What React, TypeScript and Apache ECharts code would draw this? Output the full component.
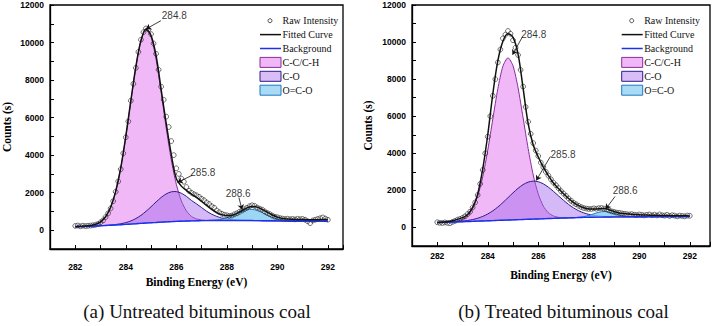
import React, { useEffect, useRef } from "react";
import * as echarts from "echarts";

// Sampling grids (eV)
const curveEnergy = [
  282.0, 282.2, 282.4, 282.6, 282.8, 283.0, 283.2, 283.4, 283.6, 283.8,
  284.0, 284.2, 284.4, 284.6, 284.8, 285.0, 285.2, 285.4, 285.6, 285.8,
  286.0, 286.2, 286.4, 286.6, 286.8, 287.0, 287.2, 287.4, 287.6, 287.8,
  288.0, 288.2, 288.4, 288.6, 288.8, 289.0, 289.2, 289.4, 289.6, 289.8,
  290.0, 290.2, 290.4, 290.6, 290.8, 291.0, 291.2, 291.4, 291.6, 291.8,
  292.0,
];
const rawEnergy = [
  282.0, 282.1, 282.2, 282.3, 282.4, 282.5, 282.6, 282.7, 282.8, 282.9,
  283.0, 283.1, 283.2, 283.3, 283.4, 283.5, 283.6, 283.7, 283.8, 283.9,
  284.0, 284.1, 284.2, 284.3, 284.4, 284.5, 284.6, 284.7, 284.8, 284.9,
  285.0, 285.1, 285.2, 285.3, 285.4, 285.5, 285.6, 285.7, 285.8, 285.9,
  286.0, 286.1, 286.2, 286.3, 286.4, 286.5, 286.6, 286.7, 286.8, 286.9,
  287.0, 287.1, 287.2, 287.3, 287.4, 287.5, 287.6, 287.7, 287.8, 287.9,
  288.0, 288.1, 288.2, 288.3, 288.4, 288.5, 288.6, 288.7, 288.8, 288.9,
  289.0, 289.1, 289.2, 289.3, 289.4, 289.5, 289.6, 289.7, 289.8, 289.9,
  290.0, 290.1, 290.2, 290.3, 290.4, 290.5, 290.6, 290.7, 290.8, 290.9,
  291.0, 291.1, 291.2, 291.3, 291.4, 291.5, 291.6, 291.7, 291.8, 291.9,
  292.0,
];

// (a) Untreated bituminous coal
const untreatedBackground = [
  180, 190, 200, 215, 228, 240, 252, 265, 280, 295,
  310, 328, 346, 365, 383, 400, 415, 430, 443, 457,
  470, 480, 489, 497, 504, 510, 513, 516, 518, 519,
  520, 520, 519, 518, 516, 515, 512, 509, 506, 503,
  500, 498, 496, 494, 492, 490, 488, 486, 484, 482,
  480,
];
const untreatedCC = [
  1, 3, 10, 30, 80, 200, 460, 950, 1770, 3010,
  4650, 6530, 8350, 9730, 10300, 9910, 8680, 6920, 5010, 3300,
  1980, 1080, 540, 240, 100, 40, 13, 4, 1, 0,
  0, 0, 0, 0, 0, 0, 0, 0, 0, 0,
  0, 0, 0, 0, 0, 0, 0, 0, 0, 0,
  0,
];
const untreatedCO = [
  0, 0, 0, 0, 1, 2, 5, 12, 26, 51,
  95, 167, 276, 427, 622, 850, 1091, 1316, 1491, 1588,
  1588, 1491, 1316, 1091, 900, 700, 500, 340, 220, 130,
  75, 40, 20, 9, 4, 2, 1, 0, 0, 0,
  0, 0, 0, 0, 0, 0, 0, 0, 0, 0,
  0,
];
const untreatedOCO = [
  0, 0, 0, 0, 0, 0, 0, 0, 0, 0,
  0, 0, 0, 0, 0, 0, 0, 0, 0, 0,
  0, 0, 0, 0, 0, 1, 4, 11, 30, 67,
  135, 237, 364, 490, 578, 598, 541, 430, 298, 182,
  97, 46, 18, 6, 2, 0, 0, 0, 0, 0,
  0,
];
const untreatedFit = [
  205, 212, 222, 250, 312, 450, 720, 1220, 2070, 3320,
  5000, 6900, 8720, 10100, 10720, 10380, 9300, 7500, 5700, 4050,
  2750, 2350, 2120, 1920, 1750, 1540, 1320, 1110, 940, 830,
  780, 800, 900, 1050, 1190, 1270, 1230, 1110, 960, 810,
  700, 630, 600, 585, 575, 568, 563, 562, 565, 570,
  570,
];
const untreatedRaw = [
  230, 250, 210, 240, 220, 235, 250, 265, 290, 330,
  420, 520, 700, 900, 1160, 1550, 2050, 2600, 3250, 4100,
  4950, 5800, 6900, 7800, 8650, 9500, 10150, 10550, 10750, 10700,
  10450, 9950, 9400, 8550, 7650, 6950, 6050, 5500, 4750, 4000,
  3300, 3000, 2750, 2580, 2300, 2100, 2000, 1920, 1860, 1780,
  1680, 1600, 1480, 1400, 1280, 1200, 1050, 960, 880, 820,
  800, 760, 780, 850, 900, 980, 1050, 1120, 1200, 1280,
  1330, 1300, 1210, 1150, 1100, 1000, 920, 860, 780, 720,
  690, 650, 620, 600, 610, 590, 600, 580, 610, 590,
  600, 560, 480, 380, 520, 560, 600, 640, 680, 620,
  560,
];
const untreatedPeakText = ["284.8", "285.8", "288.6"];
const untreatedTextAt = [[285.92, 11467], [287.05, 3093], [288.45, 1973]];
const untreatedArrowFrom = [[285.39, 11163], [286.64, 2933], [288.48, 1744]];
const untreatedArrowTo = [[284.8, 10720], [286.05, 2550], [288.6, 1100]];

// (b) Treated bituminous coal
const treatedBackground = [
  270, 278, 286, 294, 302, 310, 320, 330, 340, 350,
  360, 370, 380, 390, 400, 410, 420, 430, 440, 450,
  460, 470, 480, 490, 500, 510, 518, 526, 534, 542,
  550, 554, 558, 562, 566, 570, 572, 574, 576, 578,
  580, 582, 583, 584, 585, 586, 587, 588, 589, 590,
  591,
];
const treatedCC = [
  1, 1, 5, 16, 48, 130, 310, 680, 1340, 2380,
  3810, 5480, 7110, 8310, 8750, 8310, 7110, 5480, 3810, 2380,
  1340, 680, 310, 130, 48, 16, 5, 1, 0, 0,
  0, 0, 0, 0, 0, 0, 0, 0, 0, 0,
  0, 0, 0, 0, 0, 0, 0, 0, 0, 0,
  0,
];
const treatedCO = [
  1, 2, 4, 9, 17, 32, 56, 96, 157, 245,
  367, 526, 724, 954, 1205, 1459, 1693, 1883, 2007, 2050,
  2007, 1883, 1693, 1459, 1205, 954, 724, 526, 367, 245,
  157, 96, 56, 32, 17, 9, 4, 2, 1, 0,
  0, 0, 0, 0, 0, 0, 0, 0, 0, 0,
  0,
];
const treatedOCO = [
  0, 0, 0, 0, 0, 0, 0, 0, 0, 0,
  0, 0, 0, 0, 0, 0, 0, 0, 0, 0,
  0, 0, 0, 0, 0, 0, 0, 3, 13, 41,
  97, 182, 265, 300, 265, 182, 97, 41, 13, 3,
  0, 0, 0, 0, 0, 0, 0, 0, 0, 0,
  0,
];
const treatedFit = [
  270, 285, 310, 360, 440, 530, 700, 1080, 1800, 3150,
  5000, 7200, 9000, 10050, 10450, 10250, 9350, 7500, 5600, 4450,
  3800, 3250, 2800, 2400, 2100, 1820, 1560, 1340, 1180, 1060,
  1000, 990, 1010, 1020, 960, 860, 780, 750, 720, 700,
  685, 672, 662, 655, 650, 645, 640, 636, 632, 628,
  625,
];
const treatedRaw = [
  280, 250, 240, 270, 250, 230, 300, 350, 420, 460,
  520, 600, 720, 850, 1080, 1350, 1750, 2350, 3100, 4000,
  4900, 6000, 7100, 8000, 8900, 9600, 10200, 10400, 10600, 10450,
  10100, 9700, 9300, 8500, 7600, 6500, 5700, 5050, 4550, 4150,
  3850, 3500, 3250, 3000, 2800, 2600, 2420, 2280, 2120, 1960,
  1830, 1700, 1560, 1440, 1330, 1250, 1170, 1100, 1050, 1020,
  1000, 1000, 1030, 1010, 1040, 1050, 1020, 980, 920, 870,
  840, 800, 790, 760, 740, 720, 700, 720, 690, 670,
  700, 680, 650, 680, 700, 660, 690, 650, 700, 660,
  640, 680, 620, 660, 640, 600, 640, 620, 600, 640,
  630,
];
const treatedPeakText = ["284.8", "285.8", "288.6"];
const treatedTextAt = [[285.82, 10394], [286.98, 3921], [289.44, 1996]];
const treatedArrowFrom = [[285.38, 10302], [286.48, 3830], [289.04, 1672]];
const treatedArrowTo = [[284.98, 9315], [285.92, 2535], [288.67, 992]];

const legendNames = ["Raw Intensity", "Fitted Curve", "Background", "C-C/C-H", "C-O", "O=C-O"];

const SERIF = '"Liberation Serif", "Times New Roman", serif';
const SANS = '"Liberation Sans", Arial, sans-serif';

const COLORS = {
  ccFill: "#f0b8f6",
  ccLine: "#8a2c9c",
  coFill: "rgba(160, 100, 234, 0.45)",
  coLegend: "#d9bdf6",
  coLine: "#2e1b8e",
  ocoFill: "rgba(122, 200, 242, 0.75)",
  ocoLegend: "#a9dcf4",
  ocoLine: "#1f78c4",
  background: "#1f2ff2",
  fit: "#111111",
  raw: "#222222",
};

type Panel = {
  bg: number[];
  cc: number[];
  co: number[];
  oco: number[];
  fit: number[];
  raw: number[];
  text: string[];
  textAt: number[][];
  from: number[][];
  to: number[][];
  caption: string;
  layout: {
    left: number;
    top: number;
    width: number;
    height: number;
    xMax: number;
    xLabelMargin: number;
    xNameGap: number;
    yNameGap: number;
    legendX: number;
    legendY: number;
    captionX: number;
    captionY: number;
  };
};

const panels: Panel[] = [
  {
    bg: untreatedBackground,
    cc: untreatedCC,
    co: untreatedCO,
    oco: untreatedOCO,
    fit: untreatedFit,
    raw: untreatedRaw,
    text: untreatedPeakText,
    textAt: untreatedTextAt,
    from: untreatedArrowFrom,
    to: untreatedArrowTo,
    caption: "(a) Untreated bituminous coal",
    layout: {
      left: 49, top: 5, width: 294, height: 244, xMax: 292.6,
      xLabelMargin: 13, xNameGap: 23, yNameGap: 37,
      legendX: 260, legendY: 20.7, captionX: 197, captionY: 311,
    },
  },
  {
    bg: treatedBackground,
    cc: treatedCC,
    co: treatedCO,
    oco: treatedOCO,
    fit: treatedFit,
    raw: treatedRaw,
    text: treatedPeakText,
    textAt: treatedTextAt,
    from: treatedArrowFrom,
    to: treatedArrowTo,
    caption: "(b) Treated bituminous coal",
    layout: {
      left: 412, top: 5, width: 298, height: 241, xMax: 292.8,
      xLabelMargin: 5, xNameGap: 23, yNameGap: 38,
      legendX: 621.7, legendY: 20.7, captionX: 563.5, captionY: 311,
    },
  },
];

const pair = (xs: number[], ys: number[]) => xs.map((x, i) => [x, ys[i]]);

// A fitted component: filled band between the background and background + component,
// outlined along its upper edge.
function componentSeries(i: number, name: string, bg: number[], comp: number[], fill: string, stroke: string): any {
  return {
    type: "custom",
    name,
    xAxisIndex: i,
    yAxisIndex: i,
    silent: true,
    data: [[curveEnergy[0], bg[0]]],
    renderItem: (_params: any, api: any) => {
      const top = curveEnergy.map((e, k) => api.coord([e, bg[k] + comp[k]]));
      const bottom = curveEnergy.map((e, k) => api.coord([e, bg[k]])).reverse();
      return {
        type: "group",
        children: [
          {
            type: "polygon",
            shape: { points: top.concat(bottom), smooth: 0.25 },
            style: { fill, stroke: "none" },
          },
          {
            type: "polyline",
            shape: { points: top, smooth: 0.25 },
            style: { fill: "none", stroke, lineWidth: 1 },
          },
        ],
      };
    },
  };
}

function panelSeries(p: Panel, i: number): any[] {
  const line = {
    type: "line",
    xAxisIndex: i,
    yAxisIndex: i,
    symbol: "none",
    smooth: 0.35,
    silent: true,
  };
  return [
    componentSeries(i, "C-C/C-H", p.bg, p.cc, COLORS.ccFill, COLORS.ccLine),
    componentSeries(i, "C-O", p.bg, p.co, COLORS.coFill, COLORS.coLine),
    componentSeries(i, "O=C-O", p.bg, p.oco, COLORS.ocoFill, COLORS.ocoLine),
    {
      ...line,
      name: "Background",
      data: pair(curveEnergy, p.bg),
      lineStyle: { color: COLORS.background, width: 1.4 },
    },
    {
      ...line,
      name: "Fitted Curve",
      data: pair(curveEnergy, p.fit),
      lineStyle: { color: COLORS.fit, width: 1.5 },
    },
    {
      type: "scatter",
      name: "Raw Intensity",
      xAxisIndex: i,
      yAxisIndex: i,
      silent: true,
      symbol: "circle",
      symbolSize: 4.8,
      data: pair(rawEnergy, p.raw),
      itemStyle: { color: "rgba(255,255,255,0)", borderColor: COLORS.raw, borderWidth: 0.8 },
    },
    {
      type: "scatter",
      name: "peak-labels",
      xAxisIndex: i,
      yAxisIndex: i,
      silent: true,
      symbolSize: 1,
      itemStyle: { color: "rgba(0,0,0,0)" },
      data: p.textAt.map((c, k) => [c[0], c[1], p.text[k]]),
      label: {
        show: true,
        position: "inside",
        formatter: (q: any) => q.value[2],
        color: "#000",
        textBorderWidth: 0,
        fontSize: 10,
        fontFamily: SANS,
      },
      markLine: {
        silent: true,
        symbol: ["none", "arrow"],
        symbolSize: 5,
        label: { show: false },
        lineStyle: { color: "#111", width: 0.8, type: "solid" },
        data: p.from.map((f, k) => [{ coord: f }, { coord: p.to[k] }]),
      },
    },
  ];
}

function legendGraphic(p: Panel): any[] {
  const { legendX: x, legendY: y0 } = p.layout;
  const step = 13.9;
  const iconW = 21;
  const out: any[] = [];
  legendNames.forEach((name, k) => {
    const y = y0 + k * step;
    if (k === 0) {
      out.push({
        type: "circle",
        shape: { cx: x + 10, cy: y, r: 2 },
        style: { fill: "#fff", stroke: COLORS.raw, lineWidth: 0.8 },
      });
    } else if (k === 1 || k === 2) {
      out.push({
        type: "line",
        shape: { x1: x, y1: y, x2: x + iconW, y2: y },
        style: { stroke: k === 1 ? COLORS.fit : COLORS.background, lineWidth: 1.5 },
      });
    } else {
      const fill = k === 3 ? COLORS.ccFill : k === 4 ? COLORS.coLegend : COLORS.ocoLegend;
      const stroke = k === 3 ? COLORS.ccLine : k === 4 ? COLORS.coLine : COLORS.ocoLine;
      out.push({
        type: "rect",
        shape: { x, y: y - 5, width: iconW, height: 10 },
        style: { fill, stroke, lineWidth: 1 },
      });
    }
    out.push({
      type: "text",
      x: x + 22.5,
      y,
      style: {
        text: name,
        fill: "#111",
        font: `10px ${SERIF}`,
        align: "left",
        verticalAlign: "middle",
      },
    });
  });
  out.push({
    type: "text",
    x: p.layout.captionX,
    y: p.layout.captionY,
    style: {
      text: p.caption,
      fill: "#111",
      font: `19px ${SERIF}`,
      align: "center",
      verticalAlign: "middle",
    },
  });
  return out;
}

function buildOption(): any {
  return {
    animation: false,
    backgroundColor: "#ffffff",
    textStyle: { fontFamily: SANS },
    grid: panels.map((p) => ({
      left: p.layout.left,
      top: p.layout.top,
      width: p.layout.width,
      height: p.layout.height,
      show: true,
      borderColor: "#000",
      borderWidth: 1.3,
      backgroundColor: "transparent",
    })),
    xAxis: panels.map((p, i) => ({
      type: "value",
      gridIndex: i,
      min: 281,
      max: p.layout.xMax,
      interval: 1,
      name: "Binding Energy (eV)",
      nameLocation: "middle",
      nameGap: p.layout.xNameGap,
      nameTextStyle: { fontFamily: SERIF, fontWeight: "bold", fontSize: 11.5, color: "#000" },
      axisLine: { show: true, onZero: false, lineStyle: { color: "#000", width: 1.3 } },
      axisTick: { show: true, inside: true, length: 4, lineStyle: { color: "#000", width: 1 } },
      axisLabel: {
        interval: 0,
        margin: p.layout.xLabelMargin,
        fontFamily: SANS,
        fontWeight: "bold",
        fontSize: 8.5,
        color: "#000",
        formatter: (v: number) => (Math.abs(v % 2) < 1e-9 ? String(v) : ""),
      },
      splitLine: { show: false },
    })),
    yAxis: panels.map((p, i) => ({
      type: "value",
      gridIndex: i,
      min: -1000,
      max: 12000,
      interval: 1000,
      name: "Counts (s)",
      nameLocation: "middle",
      nameRotate: 90,
      nameGap: p.layout.yNameGap,
      nameTextStyle: { fontFamily: SERIF, fontWeight: "bold", fontSize: 11.5, color: "#000" },
      axisLine: { show: true, onZero: false, lineStyle: { color: "#000", width: 1.3 } },
      axisTick: { show: true, inside: true, length: 4, lineStyle: { color: "#000", width: 1 } },
      axisLabel: {
        margin: 6,
        fontFamily: SANS,
        fontWeight: "bold",
        fontSize: 8.5,
        color: "#000",
        formatter: (v: number) => (v >= 0 && v % 2000 === 0 ? String(v) : ""),
      },
      splitLine: { show: false },
    })),
    series: panels.flatMap((p, i) => panelSeries(p, i)),
    graphic: panels.flatMap((p) => legendGraphic(p)),
  };
}

export default function App() {
  const ref = useRef<HTMLDivElement>(null);
  useEffect(() => {
    document.body.style.margin = "0";
    if (!ref.current) return;
    const chart = echarts.init(ref.current, null, { renderer: "svg" });
    chart.setOption(buildOption());
    return () => chart.dispose();
  }, []);
  return <div ref={ref} style={{ width: 716, height: 326, background: "#fff" }} />;
}
